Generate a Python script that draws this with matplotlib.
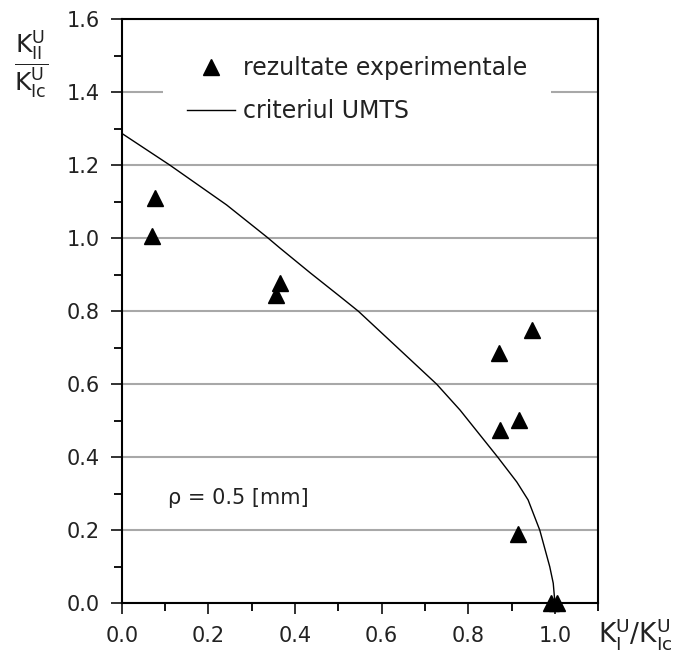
import numpy as np
import matplotlib
matplotlib.use("Agg")
import matplotlib.pyplot as plt
from matplotlib.ticker import MultipleLocator
from matplotlib.lines import Line2D

plt.rc('font', **{'size': 15, 'family': 'DejaVu Sans'})
plt.rc('mathtext', **{'fontset': 'dejavusans'})

# experimental points (K_I/K_Ic, K_II/K_Ic)
exp_x = [0.077, 0.070, 0.356, 0.366, 0.871, 0.947, 0.873, 0.916, 0.914, 0.990, 1.005]
exp_y = [1.110, 1.005, 0.843, 0.876, 0.685, 0.748, 0.474, 0.501, 0.190, 0.000, 0.000]

# UMTS criterion curve
crit_x = [0.0, 0.111, 0.242, 0.335, 0.365, 0.435, 0.504, 0.546, 0.642, 0.727,
          0.781, 0.868, 0.912, 0.938, 0.965, 0.988, 0.996, 1.0]
crit_y = [1.287, 1.20, 1.091, 1.003, 0.973, 0.905, 0.840, 0.80, 0.694, 0.60,
          0.529, 0.40, 0.332, 0.283, 0.20, 0.10, 0.055, 0.0]

labels = ['rezultate experimentale', 'criteriul UMTS']

fig = plt.figure(figsize=(6.84, 6.63), dpi=100)
ax = fig.add_axes([121.7/684, 59.7/663, (598.3-121.7)/684, (603.3-19)/663])

ax.plot(crit_x, crit_y, color='k', lw=1.0, zorder=3)
ax.plot(exp_x, exp_y, ls='none', marker='^', ms=12, color='k', clip_on=False, zorder=4)

ax.set_xlim(0, 1.1)
ax.set_ylim(0, 1.6)
ax.set_xticks([0.0, 0.2, 0.4, 0.6, 0.8, 1.0])
ax.set_xticklabels(['0.0', '0.2', '0.4', '0.6', '0.8', '1.0'])
ax.xaxis.set_minor_locator(MultipleLocator(0.1))
ax.yaxis.set_major_locator(MultipleLocator(0.2))
ax.yaxis.set_major_formatter(matplotlib.ticker.FormatStrFormatter('%.1f'))
ax.yaxis.set_minor_locator(MultipleLocator(0.1))
ax.tick_params(which='major', length=8, width=1.3, pad=8, colors='#222222')
ax.tick_params(which='minor', length=6, width=1.3)
for s in ax.spines.values():
    s.set_linewidth(1.5)
ax.yaxis.grid(True, color='#a8a8a8', lw=1.5)
ax.set_axisbelow(True)

handles = [Line2D([], [], ls='none', marker='^', ms=12, color='k'),
           Line2D([], [], color='k', lw=1.0)]
leg = ax.legend(handles, labels, loc='upper left', bbox_to_anchor=(0.0625, 0.9966),
                frameon=True, facecolor='white', edgecolor='none', framealpha=1,
                fancybox=False, handlelength=2.03, handletextpad=0.34,
                labelspacing=0.8, borderpad=1.0, fontsize=17)
for t in leg.get_texts():
    t.set_color('#222222')

ax.text(0.107, 0.272, u'\u03c1 = 0.5 [mm]', va='baseline', ha='left', fontsize=15,
        color='#222222')

fig.text(31/684, 1-64/663,
         r'$\dfrac{\mathrm{K}_{\mathrm{II}}^{\mathrm{U}}}{\mathrm{K}_{\mathrm{Ic}}^{\mathrm{U}}}$',
         ha='center', va='center', fontsize=18, color='#222222')
fig.text(598/684, 1-643/663,
         r'$\mathrm{K}_{\mathrm{I}}^{\mathrm{U}}/\mathrm{K}_{\mathrm{Ic}}^{\mathrm{U}}$',
         ha='left', va='baseline', fontsize=19, color='#222222')

fig.savefig('out.png', dpi=100)
